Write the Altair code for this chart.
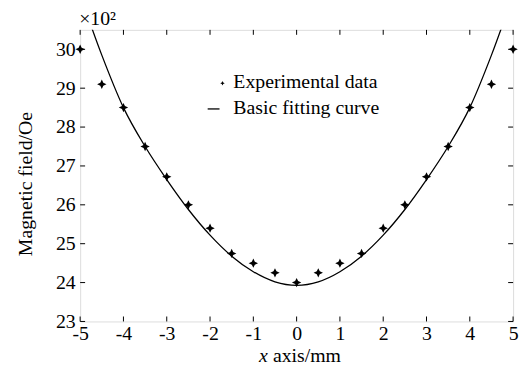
import altair as alt
import pandas as pd

# experimental data
exp_x = [-5, -4.5, -4, -3.5, -3, -2.5, -2, -1.5, -1, -0.5, 0, 0.5, 1, 1.5, 2, 2.5, 3, 3.5, 4, 4.5, 5]
exp_y = [30.0, 29.1, 28.5, 27.5, 26.72, 26.0, 25.4, 24.75, 24.5, 24.25, 24.0,
         24.25, 24.5, 24.75, 25.4, 26.0, 26.72, 27.5, 28.5, 29.1, 30.0]

# fitting curve
fit_x = [-5, -4.5, -4, -3.5, -3, -2.5, -2, -1.5, -1, -0.5, 0, 0.5, 1, 1.5, 2, 2.5, 3, 3.5, 4, 4.5, 5]
fit_y = [31.4, 29.85, 28.5, 27.5, 26.65, 25.88, 25.22, 24.68, 24.28, 24.02, 23.93,
         24.02, 24.28, 24.68, 25.22, 25.88, 26.65, 27.5, 28.5, 29.85, 31.4]

x_ticks = [-5, -4, -3, -2, -1, 0, 1, 2, 3, 4, 5]
y_ticks = [23, 24, 25, 26, 27, 28, 29, 30]

legend_labels = ["Experimental data", "Basic fitting curve"]

W, H = 438, 295
FONT = "Liberation Serif"
FS = 20
TL = 5

star = "M0,-1L0.32,-0.32L1,0L0.32,0.32L0,1L-0.32,0.32L-1,0L-0.32,-0.32Z"

xs = alt.Scale(domain=[-5, 5], nice=False, zero=False)
ys = alt.Scale(domain=[23, 30.5], nice=False, zero=False)

df_exp = pd.DataFrame({"x": exp_x, "y": exp_y})
df_fit = pd.DataFrame({"x": fit_x, "y": fit_y})
df_xt = pd.DataFrame({"x": x_ticks})
df_yt = pd.DataFrame({"y": y_ticks})

base_x = alt.X("x:Q", scale=xs, axis=alt.Axis(values=x_ticks, labelExpr="'' + datum.value", title=None,
                                              ticks=False, domain=False, grid=False, labelFlush=False,
                                              labelOverlap=False,
                                              labelFont=FONT, labelFontSize=FS, labelColor="black",
                                              labelPadding=2))
base_y = alt.Y("y:Q", scale=ys, axis=alt.Axis(values=y_ticks, labelExpr="'' + datum.value",
                                              title="Magnetic field/Oe", labelFlush=False,
                                              labelOverlap=False,
                                              ticks=False, domain=False, grid=False,
                                              labelFont=FONT, labelFontSize=FS, labelColor="black",
                                              labelPadding=5, titleFont=FONT, titleFontSize=FS,
                                              titleFontWeight="normal", titleColor="black",
                                              titlePadding=20, titleY=H / 2 + 8))

curve = alt.Chart(df_fit).mark_line(color="black", strokeWidth=1.3, interpolate="monotone", clip=True).encode(
    x=base_x, y=base_y)

pts = alt.Chart(df_exp).mark_point(shape=star, filled=True, color="black", size=90, opacity=1).encode(
    x=alt.X("x:Q", scale=xs), y=alt.Y("y:Q", scale=ys))

tick_b = alt.Chart(df_xt).mark_rule(color="black", strokeWidth=1).encode(
    x=alt.X("x:Q", scale=xs), y=alt.value(H), y2=alt.value(H - TL))
tick_t = alt.Chart(df_xt).mark_rule(color="black", strokeWidth=1).encode(
    x=alt.X("x:Q", scale=xs), y=alt.value(0), y2=alt.value(TL))
tick_l = alt.Chart(df_yt).mark_rule(color="black", strokeWidth=1).encode(
    y=alt.Y("y:Q", scale=ys), x=alt.value(0), x2=alt.value(TL))
tick_r = alt.Chart(df_yt).mark_rule(color="black", strokeWidth=1).encode(
    y=alt.Y("y:Q", scale=ys), x=alt.value(W), x2=alt.value(W - TL))

leg1 = pd.DataFrame({"label": [legend_labels[0]]})
leg2 = pd.DataFrame({"label": [legend_labels[1]]})
ROW1, ROW2 = 53, 79
leg_text1 = alt.Chart(leg1).mark_text(align="left", baseline="middle", font=FONT, fontSize=FS,
                                      color="black").encode(x=alt.value(155), y=alt.value(ROW1), text="label:N")
leg_text2 = alt.Chart(leg2).mark_text(align="left", baseline="middle", font=FONT, fontSize=FS,
                                      color="black").encode(x=alt.value(155), y=alt.value(ROW2), text="label:N")
leg_pt = alt.Chart(leg1).mark_point(shape=star, filled=True, color="black", size=20, opacity=1).encode(
    x=alt.value(144), y=alt.value(ROW1 + 1))
leg_line = alt.Chart(leg2).mark_rule(color="black", strokeWidth=1.3).encode(
    x=alt.value(129), x2=alt.value(141), y=alt.value(ROW2 + 1))

df_note = pd.DataFrame({"t": ["×10²"]})
note = alt.Chart(df_note).mark_text(align="left", baseline="alphabetic", font=FONT, fontSize=FS,
                                    color="black").encode(
    x=alt.value(-1), y=alt.value(-5), text="t:N")

df_xi = pd.DataFrame({"t": ["x"]})
df_xr = pd.DataFrame({"t": ["axis/mm"]})
xital = alt.Chart(df_xi).mark_text(align="left", baseline="alphabetic", font=FONT, fontSize=FS,
                                   fontStyle="italic", color="black").encode(
    x=alt.value(181), y=alt.value(336), text="t:N")
xrest = alt.Chart(df_xr).mark_text(align="left", baseline="alphabetic", font=FONT, fontSize=FS,
                                   color="black").encode(
    x=alt.value(195), y=alt.value(336), text="t:N")

chart = alt.layer(curve, pts, tick_b, tick_t, tick_l, tick_r, leg_text1, leg_text2, leg_pt, leg_line,
                  note, xital, xrest).properties(
    width=W, height=H,
    autosize=alt.AutoSizeParams(type="none"),
    padding={"left": 73, "top": 20, "right": 8, "bottom": 48},
).configure_view(stroke="black", strokeWidth=1.2).configure(background="white")

chart.save("out.html", embed_options={"renderer": "svg", "actions": False})
